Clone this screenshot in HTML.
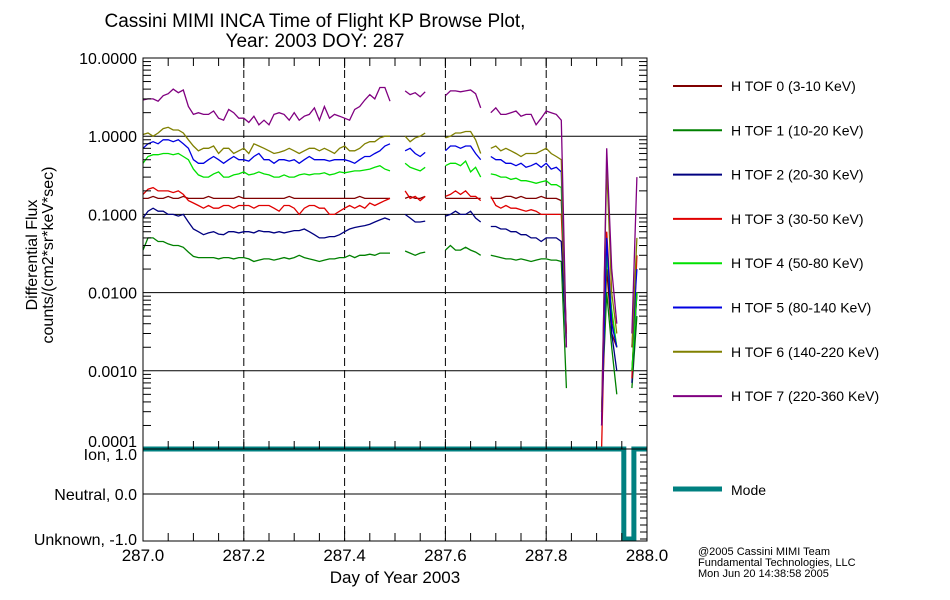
<!DOCTYPE html>
<html><head><meta charset="utf-8">
<style>
body{margin:0;background:#fff;}
svg{display:block;font-family:"Liberation Sans",sans-serif;}
</style></head>
<body>
<svg id="chart" width="950" height="600" viewBox="0 0 950 600" xmlns="http://www.w3.org/2000/svg">
<text x="315" y="27" font-size="19" text-anchor="middle">Cassini MIMI INCA Time of Flight KP Browse Plot,</text>
<text x="315" y="47" font-size="19" text-anchor="middle">Year: 2003 DOY: 287</text>
<g id="grid"></g>
<g id="series"></g>
<g id="axes"></g>
<g id="legend"></g>
<text transform="translate(37,255) rotate(-90)" font-size="16" text-anchor="middle">Differential Flux</text>
<text transform="translate(53,255) rotate(-90)" font-size="16" text-anchor="middle">counts/(cm2*sr*keV*sec)</text>
<text x="395" y="583" font-size="17" text-anchor="middle">Day of Year 2003</text>
<text x="698" y="555" font-size="11">@2005 Cassini MIMI Team</text>
<text x="698" y="566" font-size="11">Fundamental Technologies, LLC</text>
<text x="698" y="577" font-size="11">Mon Jun 20 14:38:58 2005</text>
</svg>
<script>
var N=null;
var seriesNames=["H TOF 0 (3-10 KeV)","H TOF 1 (10-20 KeV)","H TOF 2 (20-30 KeV)","H TOF 3 (30-50 KeV)","H TOF 4 (50-80 KeV)","H TOF 5 (80-140 KeV)","H TOF 6 (140-220 KeV)","H TOF 7 (220-360 KeV)"];
var seriesColors=["#800000","#008000","#000080","#e00000","#00e000","#0000e0","#808000","#800080"];
var xTicks=[287.0,287.2,287.4,287.6,287.8,288.0];
var xTickLabels=["287.0","287.2","287.4","287.6","287.8","288.0"];
var yTicks=[10,1,0.1,0.01,0.001,0.0001];
var yTickLabels=["10.0000","1.0000","0.1000","0.0100","0.0010","0.0001"];
var modeTicks=[1,0,-1];
var modeTickLabels=["Ion, 1.0","Neutral, 0.0","Unknown, -1.0"];
var modeTimes=[287.0,287.954,287.974,288.0];
var modeValues=[1,-1,1,1];
var tof7=[2.9,3.0,3.0,2.8,3.3,3.5,4.0,3.6,3.9,2.4,1.9,2.0,1.9,1.9,2.1,1.7,1.6,2.2,2.0,1.7,1.7,1.5,1.8,1.4,1.6,1.4,1.9,2.0,1.9,1.6,2.0,1.6,1.8,1.9,2.3,1.6,2.4,1.7,1.9,1.8,1.7,1.6,2.2,2.4,2.9,3.4,3.0,4.2,4.2,2.8,N,N,3.8,3.4,3.6,3.2,3.7,N,N,N,3.3,3.8,3.8,3.7,3.8,3.9,3.5,2.3,N,2.0,2.3,1.9,1.9,2.0,2.1,1.8,1.9,1.9,1.4,1.7,2.1,2.0,1.9,1.6,0.002,N,N,N,N,N,N,0.0002,0.7,0.02,0.004,N,N,0.003,0.3,N,N];
var tof6=[1.05,1.1,1.0,1.1,1.25,1.3,1.2,1.2,1.1,0.9,0.75,0.65,0.7,0.7,0.75,0.6,0.7,0.7,0.6,0.65,0.7,0.6,0.8,0.75,0.7,0.65,0.6,0.62,0.65,0.7,0.65,0.6,0.65,0.7,0.7,0.65,0.7,0.65,0.6,0.7,0.75,0.65,0.65,0.7,0.8,0.85,0.85,0.95,1.0,1.0,N,N,1.0,0.85,0.95,1.0,1.1,N,N,N,0.95,1.0,1.1,1.1,1.15,1.15,0.9,0.6,N,0.7,0.75,0.65,0.7,0.65,0.6,0.55,0.6,0.6,0.6,0.65,0.7,0.6,0.55,0.5,0.002,N,N,N,N,N,N,0.0003,0.4,0.01,0.003,N,N,0.002,0.05,N,N];
var tof5=[0.7,0.8,0.85,0.8,0.9,0.9,0.85,0.9,0.8,0.7,0.5,0.45,0.45,0.5,0.55,0.5,0.45,0.5,0.55,0.5,0.5,0.48,0.55,0.6,0.5,0.5,0.45,0.5,0.5,0.48,0.5,0.45,0.5,0.55,0.5,0.5,0.5,0.48,0.5,0.5,0.5,0.48,0.45,0.5,0.55,0.55,0.6,0.65,0.75,0.8,N,N,0.65,0.7,0.6,0.55,0.62,N,N,N,0.65,0.75,0.75,0.7,0.75,0.75,0.6,0.5,N,0.55,0.5,0.5,0.45,0.45,0.42,0.45,0.4,0.42,0.45,0.4,0.45,0.38,0.4,0.35,0.002,N,N,N,N,N,N,0.0002,0.05,0.004,0.002,N,N,0.002,0.02,N,N];
var tof4=[0.45,0.55,0.58,0.58,0.6,0.6,0.58,0.6,0.55,0.5,0.38,0.32,0.3,0.3,0.33,0.35,0.3,0.3,0.32,0.33,0.35,0.32,0.33,0.35,0.33,0.32,0.3,0.3,0.32,0.3,0.3,0.32,0.33,0.32,0.33,0.33,0.34,0.32,0.33,0.35,0.34,0.35,0.36,0.36,0.37,0.38,0.4,0.42,0.38,0.36,N,N,0.45,0.4,0.38,0.36,0.4,N,N,N,0.42,0.45,0.45,0.42,0.48,0.35,0.4,0.3,N,0.33,0.32,0.3,0.3,0.28,0.29,0.27,0.27,0.26,0.25,0.26,0.27,0.24,0.24,0.22,0.002,N,N,N,N,N,N,0.0003,0.03,0.006,0.002,N,N,0.001,0.01,N,N];
var tof3=[0.18,0.21,0.22,0.2,0.2,0.2,0.19,0.2,0.18,0.15,0.14,0.13,0.12,0.13,0.12,0.12,0.13,0.13,0.12,0.13,0.13,0.13,0.12,0.13,0.13,0.13,0.12,0.11,0.13,0.13,0.12,0.1,0.12,0.13,0.13,0.12,0.12,0.1,0.1,0.11,0.12,0.13,0.12,0.13,0.12,0.14,0.13,0.14,0.15,0.16,N,N,0.2,0.16,0.17,0.15,0.17,N,N,N,0.17,0.18,0.2,0.18,0.2,0.17,0.17,0.15,N,0.17,0.13,0.12,0.13,0.12,0.12,0.115,0.11,0.115,0.11,0.1,0.1,0.1,0.1,0.1,0.003,N,N,N,N,N,N,0.0001,0.06,0.005,0.002,N,N,0.0008,0.03,N,N];
var tof0=[0.16,0.16,0.17,0.16,0.16,0.17,0.16,0.16,0.17,0.16,0.16,0.16,0.16,0.17,0.16,0.16,0.16,0.16,0.16,0.17,0.16,0.16,0.16,0.16,0.16,0.16,0.16,0.16,0.16,0.17,0.16,0.16,0.16,0.16,0.16,0.16,0.16,0.16,0.16,0.16,0.16,0.16,0.16,0.17,0.16,0.16,0.16,0.16,0.16,0.16,N,N,0.16,0.17,0.16,0.16,0.17,N,N,N,0.16,0.16,0.16,0.16,0.16,0.16,0.16,0.16,N,0.16,0.16,0.16,0.17,0.17,0.16,0.17,0.16,0.16,0.16,0.17,0.16,0.16,0.16,0.15,0.003,N,N,N,N,N,N,0.0003,0.02,0.003,0.002,N,N,0.001,0.01,N,N];
var tof2=[0.09,0.11,0.12,0.11,0.11,0.1,0.1,0.095,0.1,0.08,0.065,0.06,0.055,0.058,0.06,0.056,0.055,0.06,0.06,0.058,0.06,0.06,0.058,0.062,0.06,0.06,0.058,0.06,0.058,0.06,0.062,0.062,0.065,0.06,0.055,0.05,0.05,0.052,0.052,0.055,0.06,0.065,0.068,0.07,0.072,0.075,0.08,0.085,0.09,0.085,N,N,0.1,0.09,0.08,0.08,0.082,N,N,N,0.095,0.1,0.11,0.1,0.1,0.11,0.09,0.08,N,0.07,0.07,0.065,0.065,0.06,0.06,0.055,0.055,0.05,0.05,0.045,0.05,0.05,0.05,0.045,0.002,N,N,N,N,N,N,0.0002,0.04,0.003,0.001,N,N,0.0007,0.01,N,N];
var tof1=[0.035,0.05,0.05,0.045,0.045,0.042,0.04,0.04,0.038,0.033,0.029,0.028,0.028,0.028,0.028,0.027,0.028,0.028,0.027,0.028,0.028,0.027,0.025,0.026,0.027,0.027,0.026,0.027,0.028,0.027,0.028,0.03,0.028,0.027,0.026,0.025,0.026,0.027,0.027,0.028,0.028,0.03,0.028,0.03,0.03,0.031,0.03,0.032,0.032,0.032,N,N,0.034,0.032,0.03,0.032,0.033,N,N,N,0.035,0.04,0.035,0.035,0.038,0.035,0.033,0.03,N,0.03,0.029,0.028,0.027,0.027,0.026,0.027,0.026,0.025,0.026,0.027,0.027,0.026,0.026,0.025,0.0006,N,N,N,N,N,N,0.0003,0.01,0.002,0.0005,N,N,0.0006,0.005,N,N];
var seriesValues=[tof0,tof1,tof2,tof3,tof4,tof5,tof6,tof7];

var X0=143,X1=647,YT=58,YB=449,MT=449,MB=541;
function xs(t){return X0+(t-287)*(X1-X0);}
function ys(v){return YT+(1-Math.log10(v))*((YB-YT)/5);}
function ym(v){return 494-45*v;}
var NS="http://www.w3.org/2000/svg";
function mk(tag,attrs,parent){var e=document.createElementNS(NS,tag);for(var k in attrs)e.setAttribute(k,attrs[k]);parent.appendChild(e);return e;}
var grid=document.getElementById('grid'),axes=document.getElementById('axes'),ser=document.getElementById('series'),leg=document.getElementById('legend');

[1,0.1,0.01,0.001].forEach(function(v){var l=mk('line',{x1:X0,x2:X1,y1:ys(v),y2:ys(v),stroke:'#000','stroke-width':1},grid);

});
var l0=mk('line',{x1:X0,x2:X1,y1:ym(0),y2:ym(0),stroke:'#000'},grid);


[287.2,287.4,287.6,287.8].forEach(function(t){var l=mk('line',{x1:xs(t),x2:xs(t),y1:YT,y2:MB,stroke:'#000','stroke-dasharray':'8,4'},grid);

});

var times=[];for(var i=0;i<=100;i++)times.push(287+i/100);
seriesValues.forEach(function(vals,si){
  var d='',pen=false;
  vals.forEach(function(v,i){ if(v===null){pen=false;return;} var yv=Math.max(ys(v),0);d+=(pen?'L':'M')+xs(times[i]).toFixed(1)+','+Math.min(yv,YB).toFixed(1);pen=true;});
  var p=mk('path',{d:d,fill:'none',stroke:seriesColors[si],'stroke-width':1.3},ser);
  
  
});
var md='';modeTimes.forEach(function(t,i){ if(i===0)md+='M'+xs(t)+','+ym(modeValues[i]); else {md+='L'+xs(t)+','+ym(modeValues[i-1])+'L'+xs(t)+','+ym(modeValues[i]);} });
md+='L'+X1+','+ym(modeValues[modeValues.length-1]);
var mp=mk('path',{d:md,fill:'none',stroke:'#008080','stroke-width':5},ser);



var f1=mk('rect',{x:X0,y:YT,width:X1-X0,height:YB-YT,fill:'none',stroke:'#000'},axes);


var f2=mk('rect',{x:X0,y:MT,width:X1-X0,height:MB-MT,fill:'none',stroke:'#000'},axes);


for(var k=0;k<=20;k++){var t=287+k*0.05,len=(k%4===0)?10:8;
 [[YT,YT+len],[YB,YB-len],[MB,MB-len]].forEach(function(p){var l=mk('line',{x1:xs(t),x2:xs(t),y1:p[0],y2:p[1],stroke:'#000'},axes);
 
 });}
for(var dcd=-4;dcd<1;dcd++){for(var m=2;m<=9;m++){var y=ys(m*Math.pow(10,dcd));
 [[X0,X0+8],[X1,X1-8]].forEach(function(p){var l=mk('line',{x1:p[0],x2:p[1],y1:y,y2:y,stroke:'#000'},axes);
 
 });}}
for(var y=MT+6;y<MB;y+=7){var l=mk('line',{x1:X1,x2:X1-7,y1:y,y2:y,stroke:'#000'},axes);
 
 }
yTicks.forEach(function(v,i){var tx=mk('text',{x:X0-6,y:ys(v)+(i===5?-2:6),'font-size':16,'text-anchor':'end'},axes);tx.textContent=yTickLabels[i];
 
 });
modeTicks.forEach(function(v,i){var tx=mk('text',{x:X0-6,y:ym(v)+(v===1?11:6),'font-size':16,'text-anchor':'end'},axes);tx.textContent=modeTickLabels[i];
 
 });
xTicks.forEach(function(t,i){var tx=mk('text',{x:xs(t),y:561,'font-size':17,'text-anchor':'middle'},axes);tx.textContent=xTickLabels[i];
 
 });
seriesNames.forEach(function(n,i){var y=86+i*44.3;
 var l=mk('line',{x1:673,x2:722,y1:y,y2:y,stroke:seriesColors[i],'stroke-width':2},leg);
 
 
 var tx=mk('text',{x:731,y:y+5,'font-size':14},leg);tx.textContent=n;
 
 });
var ml=mk('line',{x1:673,x2:722,y1:489,y2:489,stroke:'#008080','stroke-width':5},leg);


var mt=mk('text',{x:731,y:495,'font-size':14},leg);mt.textContent='Mode';


</script>
</body></html>
